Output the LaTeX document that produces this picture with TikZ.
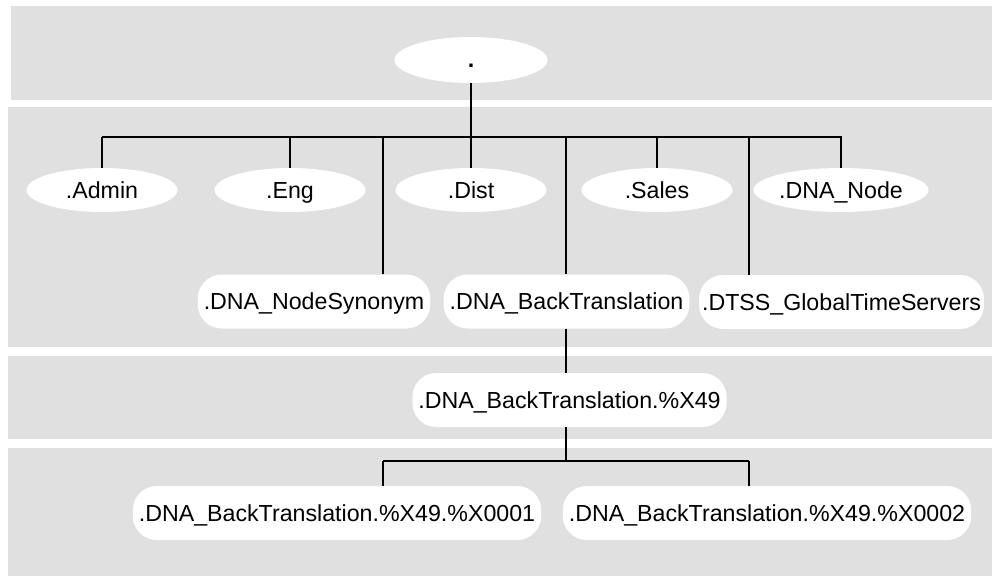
\documentclass[tikz,border=0pt]{standalone}
\usepackage{fontspec}
\setmainfont{Liberation Sans}
\usetikzlibrary{shapes.geometric}

\newcommand*{\bandleft}{8}
\newcommand*{\bandright}{992}
\newcommand*{\labelfont}{\fontsize{23.2}{27}\selectfont}

\begin{document}
\begin{tikzpicture}
[
	x=1pt,
	y=-1pt,
	band/.style={fill=black!12},
	dirnode/.style={ellipse,fill=white,inner sep=0pt,minimum width=151pt,minimum height=44pt,text height=18pt,text depth=2pt,font=\labelfont},
	dirbox/.style={rectangle,rounded corners=24pt,fill=white,inner xsep=6pt,inner ysep=0pt,minimum height=54pt,text height=18pt,text depth=2pt,font=\labelfont},
	tree/.style={line width=1.8pt}
]
	\useasboundingbox (0,0) rectangle (992,580);

	% background bands
	\fill[band] (11,6) rectangle (\bandright,100);
	\fill[band] (\bandleft,107) rectangle (\bandright,347);
	\fill[band] (\bandleft,356) rectangle (\bandright,439);
	\fill[band] (\bandleft,448) rectangle (\bandright,576);

	% root
	\node[dirnode,minimum width=153pt,minimum height=46pt,font=\labelfont\bfseries] at (471,60) (root) {.};

	% first level
	\node[dirnode] at (102,190) (admin) {.Admin};
	\node[dirnode] at (290,190) (eng) {.Eng};
	\node[dirnode] at (471,190) (dist) {.Dist};
	\node[dirnode] at (657,190) (sales) {.Sales};
	\node[dirnode] at (841,190) (dnanode) {.DNA\_Node};

	% second level
	\node[dirbox] at (314,301.5) (synonym) {.DNA\_NodeSynonym};
	\node[dirbox] at (566.5,301.5) (backtrans) {.DNA\_BackTranslation};
	\node[dirbox,inner xsep=3pt] at (841.5,302) (dtss) {.DTSS\_GlobalTimeServers};

	% third and fourth level
	\node[dirbox] at (569.5,400) (x49) {.DNA\_BackTranslation.\%X49};
	\node[dirbox] at (337,513) (x0001) {.DNA\_BackTranslation.\%X49.\%X0001};
	\node[dirbox] at (767,513) (x0002) {.DNA\_BackTranslation.\%X49.\%X0002};

	% bus coordinates
	\coordinate (busleft) at (102,137);
	\coordinate (busright) at (842,137);
	\coordinate (bussyn) at (383,137);
	\coordinate (busback) at (566,137);
	\coordinate (busdtss) at (749,137);
	\coordinate (lowleft) at (383,461);
	\coordinate (lowright) at (749,461);
	\coordinate (lowmid) at (566,461);

	% connectors, top part
	\draw[tree] (busleft) -- (busright);
	\draw[tree] (root.south) -- (root.south |- busleft);
	\foreach \n in {admin,eng,dist,sales,dnanode} {
		\draw[tree] (\n.north |- busleft) -- (\n.north);
	}
	\draw[tree] (bussyn) -- (bussyn |- synonym.north);
	\draw[tree] (busback) -- (busback |- backtrans.north);
	\draw[tree] (busdtss) -- (busdtss |- dtss.north);

	% connectors, lower part
	\draw[tree] (busback |- backtrans.south) -- (busback |- x49.north);
	\draw[tree] (busback |- x49.south) -- (lowmid);
	\draw[tree] (lowleft) -- (lowright);
	\draw[tree] (lowleft) -- (lowleft |- x0001.north);
	\draw[tree] (lowright) -- (lowright |- x0002.north);

\end{tikzpicture}
\end{document}
